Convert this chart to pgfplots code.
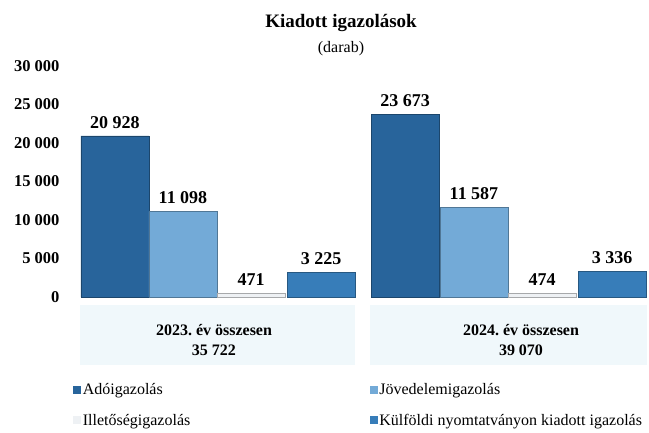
\documentclass[border=0pt]{standalone}
\usepackage{pgfplots}
\pgfplotsset{compat=1.18}
\usepackage{fontspec}
\setmainfont{Liberation Serif}
\frenchspacing
\definecolor{adoC}{HTML}{28649B}
\definecolor{jovC}{HTML}{73AAD7}
\definecolor{illC}{HTML}{EEF1F4}
\definecolor{kulC}{HTML}{377DB9}
\definecolor{bandC}{HTML}{F0F8FB}
\pgfplotsset{mybar/.style={ybar, bar width=68, bar shift=0pt, fill=#1, draw=#1!70!black, line width=0.6pt,
  legend image code/.code={\fill[#1] (0pt,-3.5pt) rectangle (7pt,3.5pt);}}}
\begin{document}
\begin{tikzpicture}
\path[use as bounding box] (0,0) rectangle (649pt,432pt);
\fill[bandC] (80pt,127pt) rectangle (355pt,67pt);
\fill[bandC] (370pt,127pt) rectangle (647pt,67pt);
\node[font=\bfseries\fontsize{19}{21}\selectfont] at (341pt,409pt) {Kiadott igazolások};
\node[font=\fontsize{16}{18}\selectfont] at (341pt,383pt) {(darab)};
\begin{axis}[
  at={(80pt,135pt)}, anchor=south west,
  scale only axis, width=567pt, height=231pt,
  xmin=80, xmax=647, ymin=0, ymax=30000,
  axis line style={draw=none}, tick style={draw=none},
  ytick={0,5000,...,30000}, scaled y ticks=false,
  xtick={214,521},
  xticklabels={{2023. év összesen\\35 722},{2024. év összesen\\39 070}},
  x tick label style={align=center, font=\bfseries\fontsize{16}{20}\selectfont, yshift=-24pt},
  y tick label style={font=\bfseries\fontsize{16.5}{18}\selectfont, xshift=-17pt},
  /pgf/number format/1000 sep={\ },
  /pgf/number format/assume math mode=true,
  nodes near coords,
  nodes near coords style={font=\bfseries\fontsize{18}{20}\selectfont, anchor=south, yshift=4pt, text=black},
  clip=false,
  legend columns=2,
  legend style={draw=none, fill=none, at={(axis cs:73,0)}, anchor=north west, yshift=-84pt,
    font=\fontsize{16}{18}\selectfont, row sep=14pt, inner sep=0pt, legend cell align=left},
]
\addplot[mybar=adoC] coordinates {(115,20928) (405,23673)};
\addlegendentry{\makebox[285pt][l]{Adóigazolás}}
\addplot[mybar=jovC] coordinates {(183,11098) (474,11587)};
\addlegendentry{Jövedelemigazolás}
\addplot[mybar=illC] coordinates {(251,471) (542,474)};
\addlegendentry{\makebox[285pt][l]{Illetőségigazolás}}
\addplot[mybar=kulC] coordinates {(321,3225) (612,3336)};
\addlegendentry{Külföldi nyomtatványon kiadott igazolás}
\end{axis}
\end{tikzpicture}
\end{document}
